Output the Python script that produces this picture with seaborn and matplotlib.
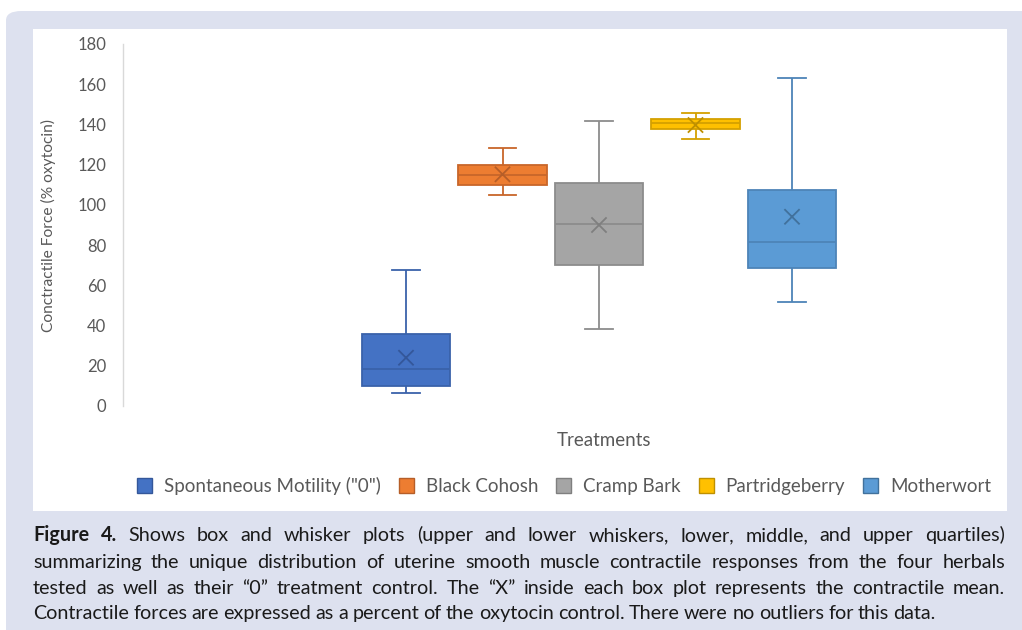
import matplotlib
import matplotlib.pyplot as plt
import numpy as np
import pandas as pd
import seaborn as sns
from matplotlib.patches import FancyBboxPatch, Patch, Rectangle

matplotlib.use('agg')

# values (% of oxytocin control)
treatments = ['Spontaneous Motility ("0")', 'Black Cohosh', 'Cramp Bark', 'Partridgeberry', 'Motherwort']
mins = [6.6, 105.1, 38.1, 132.9, 51.9]
q1s = [10.1, 110.0, 70.1, 137.9, 68.6]
medians = [18.2, 114.7, 90.7, 140.6, 81.7]
q3s = [35.8, 119.8, 111.0, 142.6, 107.4]
maxs = [67.8, 128.4, 141.7, 145.5, 163.0]
means = [24.0, 115.2, 90.0, 139.7, 94.1]

fill_colors = ['#4472C4', '#ED7D31', '#A5A5A5', '#FFC000', '#5B9BD5']
edge_colors = ['#3A62AA', '#C8662A', '#8C8C8C', '#D4A000', '#4D84B8']
mean_colors = ['#34579A', '#B65E28', '#7F7F7F', '#BF9000', '#41719C']

caption_lines = [
    'Figure 4. Shows box and whisker plots (upper and lower whiskers, lower, middle, and upper quartiles)',
    'summarizing the unique distribution of uterine smooth muscle contractile responses from the four herbals',
    'tested as well as their \u201c0\u201d treatment control. The \u201cX\u201d inside each box plot represents the contractile mean.',
    'Contractile forces are expressed as a percent of the oxytocin control. There were no outliers for this data.',
]

# five-number summary per treatment -> long table for seaborn
rows = []
for i, t in enumerate(treatments):
    for v in [mins[i], q1s[i], medians[i], q3s[i], maxs[i]]:
        rows.append({'Treatment': t, 'Force': v})
df = pd.DataFrame(rows)

W, H = 1022, 630
fig = plt.figure(figsize=(W / 100, H / 100), dpi=100)
fig.patch.set_facecolor('white')

# lavender frame and white chart panel
bg = FancyBboxPatch((6 / W, -0.05), (W + 20) / W, (H - 11) / H + 0.05,
                    boxstyle='round,pad=0,rounding_size=0.015', transform=fig.transFigure,
                    facecolor='#DDE1EF', edgecolor='none', zorder=-10)
fig.add_artist(bg)
panel = Rectangle((33 / W, 1 - 511 / H), (1007 - 33) / W, (511 - 29) / H,
                  transform=fig.transFigure, facecolor='white', edgecolor='none', zorder=-9)
fig.add_artist(panel)

ax_left, ax_right, ax_top, ax_bottom = 123, 1000, 44, 406
ax = fig.add_axes([ax_left / W, 1 - ax_bottom / H, (ax_right - ax_left) / W, (ax_bottom - ax_top) / H])
ax.set_facecolor('none')

for i, t in enumerate(treatments):
    sns.boxplot(data=df[df['Treatment'] == t], x='Treatment', y='Force', order=treatments,
                color=fill_colors[i], linecolor=edge_colors[i], saturation=1, width=0.912,
                whis=(0, 100), linewidth=1.3, capwidths=0.28, ax=ax)

sns.scatterplot(x=np.arange(len(treatments)), y=means, hue=treatments, palette=mean_colors,
                marker='x', s=120, linewidth=1.3, legend=False, zorder=5, ax=ax)

ax.set_ylim(0, 180)
ax.set_yticks(range(0, 181, 20))
ax.set_xlim(-(406 - ax_left) / 96.5, (ax_right - 406) / 96.5)
ax.set_xticks([])
for s in ['top', 'right', 'bottom']:
    ax.spines[s].set_visible(False)
ax.spines['left'].set_color('#D9D9D9')
ax.spines['left'].set_linewidth(1)
ax.tick_params(axis='y', length=0, pad=12, labelsize=12, labelcolor='#595959')
for lab in ax.get_yticklabels():
    lab.set_family('Lato')

ax.set_ylabel('Conctractile Force (% oxytocin)', fontsize=11.2, color='#595959', family='Lato')
ax.yaxis.set_label_coords((56 - ax_left) / (ax_right - ax_left), 0.5)
ax.set_xlabel('Treatments', fontsize=13.5, color='#595959', family='Lato')
ax.xaxis.set_label_coords((604 - ax_left) / (ax_right - ax_left), -(432 - ax_bottom) / (ax_bottom - ax_top))

handles = [Patch(facecolor=fill_colors[i], edgecolor=mean_colors[i], linewidth=1) for i in range(len(treatments))]
leg = fig.legend(handles, treatments, loc='center', bbox_to_anchor=(564 / W, 1 - 486 / H), ncol=5,
                 frameon=False, handlelength=0.8, handleheight=0.8, handletextpad=0.64,
                 columnspacing=0.95, prop={'family': 'Lato', 'size': 13.5})
for txt in leg.get_texts():
    txt.set_color('#595959')

# caption, justified by hand word by word
renderer = fig.canvas.get_renderer()
probe = fig.text(0, 0, caption_lines[-1], fontsize=10, family='Lato')
cap_size = 10 * 917 / probe.get_window_extent(renderer).width
probe.remove()

baselines = [541, 568, 594, 619]
x0, x1 = 33, 1005
for li, line in enumerate(caption_lines):
    words = line.split(' ')
    texts = []
    for wi, w in enumerate(words):
        bold = li == 0 and wi < 2
        texts.append(fig.text(0, 1 - baselines[li] / H, w, fontsize=cap_size, family='Lato',
                              weight='bold' if bold else 'normal', color='#1A1A1A', va='baseline'))
    widths = [t.get_window_extent(renderer).width for t in texts]
    if li < len(caption_lines) - 1:
        gap = (x1 - x0 - sum(widths)) / (len(words) - 1)
    else:
        gap = cap_size * 100 / 72 * 0.22
    x = x0
    for t, wd in zip(texts, widths):
        t.set_x(x / W)
        x += wd + gap

plt.savefig('out.png', dpi=100)
